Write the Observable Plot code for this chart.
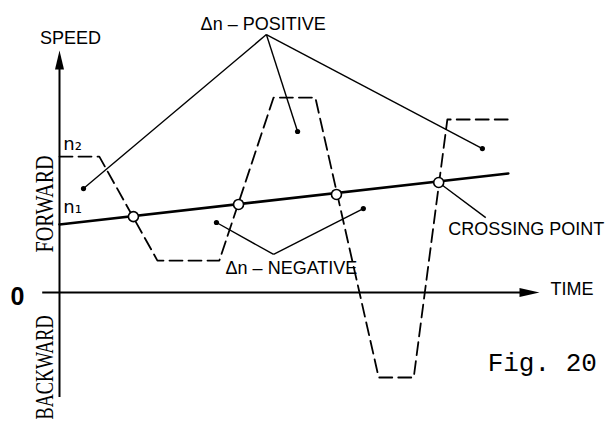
<!DOCTYPE html>
<html>
<head>
<meta charset="utf-8">
<script src="https://cdn.jsdelivr.net/npm/d3@7"></script>
<script src="https://cdn.jsdelivr.net/npm/@observablehq/plot@0.6"></script>
<style>
  html, body { margin: 0; padding: 0; background: #fff; }
  #chart svg { display: block; background: #fff; }
</style>
</head>
<body>
<div id="chart"></div>
<script>
// ---- data (time units, speed units) ----
const axisTime = [-0.35, 10.0];          // time axis extent (arrow tip at end)
const axisSpeed = [-4.3, 9.92];          // speed axis extent (arrow tip at end)

const n1Time = [0, 9.35];                // reference speed line n1
const n1Speed = [2.79, 4.88];

const profileTime  = [0, 0.83, 2.04, 3.33, 4.46, 5.33, 6.65, 7.38, 8.08, 9.38];
const profileSpeed = [5.57, 5.57, 1.31, 1.31, 7.99, 7.99, -3.48, -3.48, 7.09, 7.09];

const crossTime  = [1.54, 3.73, 5.77, 7.9];
const crossSpeed = [3.11, 3.61, 4.02, 4.51];

const posApex = [4.31, 10.57];
const posDotTime  = [0.5, 4.96, 8.81];
const posDotSpeed = [4.26, 6.6, 5.9];

const negApex = [4.46, 1.56];
const negDotTime  = [3.27, 6.33];
const negDotSpeed = [2.87, 3.44];

const crossLeader = [[7.9, 4.51], [8.88, 3.07]];

const titleLabel = "SPEED";
const titlePos = [0.23, 10.2];

const sansLabels = ["Δn – POSITIVE", "Δn – NEGATIVE", "CROSSING POINT", "TIME"];
const sansTime   = [2.94, 3.46, 8.1, 10.23];
const sansSpeed  = [10.74, 0.78, 2.34, -0.12];

const levelLabels = ["n₂", "n₁"];
const levelTime   = [0.08, 0.08];
const levelSpeed  = [5.85, 3.25];

const dirLabels = ["FORWARD", "BACKWARD"];
const dirTime   = [-0.31, -0.31];
const dirSpeed  = [3.63, -3.07];
const dirLength = [97, 104];

const zeroLabel = "0";
const zeroPos = [-0.875, -0.2];

const figLabel = "Fig. 20";
const figPos = [8.92, -3.2];

// ---- derived tables ----
const profile = profileTime.map((t, i) => ({t, s: profileSpeed[i]}));
const n1 = n1Time.map((t, i) => ({t, s: n1Speed[i]}));
const crosses = crossTime.map((t, i) => ({t, s: crossSpeed[i]}));
const posLinks = posDotTime.map((t, i) => ({t1: posApex[0], s1: posApex[1], t2: t, s2: posDotSpeed[i]}));
const negLinks = negDotTime.map((t, i) => ({t1: negApex[0], s1: negApex[1], t2: t, s2: negDotSpeed[i]}));
const allLinks = [...posLinks, ...negLinks,
  {t1: crossLeader[0][0], s1: crossLeader[0][1], t2: crossLeader[1][0], s2: crossLeader[1][1]}];
const dots = [...posDotTime.map((t, i) => ({t, s: posDotSpeed[i]})),
              ...negDotTime.map((t, i) => ({t, s: negDotSpeed[i]}))];
const sans = sansLabels.map((text, i) => ({text, t: sansTime[i], s: sansSpeed[i]}));
const levels = levelLabels.map((text, i) => ({text, t: levelTime[i], s: levelSpeed[i]}));
const dirs = dirLabels.map((text, i) => ({text, t: dirTime[i], s: dirSpeed[i]}));

// arrowhead symbols (tip at the anchor point)
const arrowUp = {draw(ctx) { ctx.moveTo(0, 0); ctx.lineTo(-4.5, 19); ctx.lineTo(4.5, 19); ctx.closePath(); }};
const arrowRight = {draw(ctx) { ctx.moveTo(0, 0); ctx.lineTo(-20, -4.5); ctx.lineTo(-20, 4.5); ctx.closePath(); }};

const font = "Liberation Sans, Arial, Helvetica, sans-serif";

const chart = Plot.plot({
  width: 608,
  height: 422,
  marginLeft: 59,
  marginRight: 69,
  marginTop: 48,
  marginBottom: 25,
  x: {domain: [0, 10], axis: null},
  y: {domain: [-4.3, 10], axis: null},
  style: {background: "#fff", color: "#000"},
  marks: [
    // axes
    Plot.ruleY([0], {x1: axisTime[0], x2: axisTime[1] - 0.2, stroke: "#000", strokeWidth: 2}),
    Plot.ruleX([0], {y1: axisSpeed[0], y2: axisSpeed[1] - 0.5, stroke: "#000", strokeWidth: 2}),
    Plot.dot([{t: axisTime[1], s: 0}], {x: "t", y: "s", symbol: arrowRight, fill: "#000", stroke: null, r: 5}),
    Plot.dot([{t: 0, s: axisSpeed[1]}], {x: "t", y: "s", symbol: arrowUp, fill: "#000", stroke: null, r: 5}),
    // speed profile (dashed)
    Plot.line(profile, {x: "t", y: "s", stroke: "#000", strokeWidth: 1.8, strokeDasharray: "13,6", curve: "linear"}),
    // n1 reference line
    Plot.line(n1, {x: "t", y: "s", stroke: "#000", strokeWidth: 2.6}),
    // leader lines
    Plot.link(allLinks, {x1: "t1", y1: "s1", x2: "t2", y2: "s2", stroke: "#000", strokeWidth: 1.4}),
    Plot.dot(dots, {x: "t", y: "s", r: 2.6, fill: "#000", stroke: null}),
    // crossing points
    Plot.dot(crosses, {x: "t", y: "s", r: 5, fill: "#fff", stroke: "#000", strokeWidth: 1.6}),
    // labels
    Plot.text([titleLabel], {x: titlePos[0], y: titlePos[1], text: d => d, textAnchor: "middle", lineAnchor: "bottom",
      fontSize: 18, fontFamily: font, fill: "#000"}),
    Plot.text(sans, {x: "t", y: "s", text: "text", textAnchor: "start", lineAnchor: "bottom",
      fontSize: 18, fontFamily: font, fill: "#000"}),
    Plot.text(levels, {x: "t", y: "s", text: "text", textAnchor: "start", lineAnchor: "bottom",
      fontSize: 18, fontFamily: "DejaVu Sans, sans-serif", fill: "#000"}),
    Plot.text(dirs, {x: "t", y: "s", text: "text", rotate: -90, textAnchor: "middle", lineAnchor: "middle",
      fontSize: 25, fontFamily: "Liberation Serif, Times New Roman, serif", fill: "#000"}),
    Plot.text([zeroLabel], {x: zeroPos[0], y: zeroPos[1], text: d => d, textAnchor: "middle", lineAnchor: "middle",
      fontSize: 25, fontWeight: "bold", fontFamily: font, fill: "#000"}),
    Plot.text([figLabel], {x: figPos[0], y: figPos[1], text: d => d, textAnchor: "start", lineAnchor: "bottom",
      fontSize: 26, fontFamily: "Liberation Mono, Courier New, monospace", fill: "#000"})
  ]
});

// fit the condensed serif direction labels to their measured length
d3.select(chart).selectAll("text").each(function () {
  const i = dirLabels.indexOf(this.textContent);
  if (i >= 0) d3.select(this).attr("textLength", dirLength[i]).attr("lengthAdjust", "spacingAndGlyphs");
});

document.getElementById("chart").appendChild(chart);
</script>
</body>
</html>
